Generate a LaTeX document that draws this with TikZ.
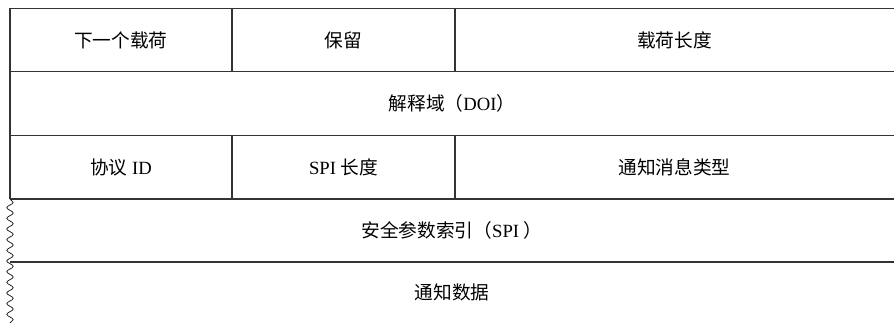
\documentclass[tikz,border=0pt]{standalone}
\usepackage{fontspec}
\setmainfont{Liberation Serif}
\newfontfamily\cjk{Noto Sans CJK SC}
\newcommand{\zh}[1]{{\cjk #1}}
\usetikzlibrary{decorations.pathmorphing}

\begin{document}
\begin{tikzpicture}[x=0.75pt, y=-0.75pt,
  field/.style={inner sep=0pt, font=\fontsize{14}{16}\selectfont},
  rule/.style={line width=1.1pt, draw=black!80},
  wave/.style={draw=black!85, line width=0.6pt, decorate,
    decoration={snake, segment length=8pt, amplitude=2.4pt}}]
  \useasboundingbox (0,0) rectangle (894,323);

  % Grid corners
  \coordinate (TL) at (10,8.5);
  \coordinate (TR) at (894,8.5);
  \coordinate (AL) at (10,71.5);
  \coordinate (AR) at (894,71.5);
  \coordinate (BL) at (10,135.5);
  \coordinate (BR) at (894,135.5);
  \coordinate (CL) at (10,199);
  \coordinate (CR) at (894,199);
  \coordinate (DL) at (10,262);
  \coordinate (DR) at (894,262);
  \coordinate (E) at (10,323);

  % Column dividers
  \coordinate (V1t) at (232,8.5);
  \coordinate (V1b) at (232,71.5);
  \coordinate (V2t) at (455,8.5);
  \coordinate (V2b) at (455,71.5);
  \coordinate (W1t) at (232,135.5);
  \coordinate (W1b) at (232,199);
  \coordinate (W2t) at (455,135.5);
  \coordinate (W2b) at (455,199);

  % Fields
  \node[field] (NP)  at (121,40)    {\zh{下一个载荷}};
  \node[field] (RES) at (343.5,40)  {\zh{保留}};
  \node[field] (PL)  at (674.5,40)  {\zh{载荷长度}};
  \node[field] (DOI) at (452,103.5) {\zh{解释域（}DOI\zh{）}};
  \node[field] (PID) at (121,167)   {\zh{协议} ID};
  \node[field] (SL)  at (343.5,167) {SPI \zh{长度}};
  \node[field] (NT)  at (674.5,167) {\zh{通知消息类型}};
  \node[field] (SPI) at (452,230.5) {\zh{安全参数索引（}SPI \zh{）}};
  \node[field] (ND)  at (452,292.5) {\zh{通知数据}};

  % Horizontal rules
  \draw[rule] (TL) -- (TR);
  \draw[rule] (AL) -- (AR);
  \draw[rule] (BL) -- (BR);
  \draw[rule] (CL) -- (CR);
  \draw[rule] (DL) -- (DR);

  % Left border and dividers
  \draw[rule] (TL) -- (CL);
  \draw[rule] (V1t) -- (V1b);
  \draw[rule] (V2t) -- (V2b);
  \draw[rule] (W1t) -- (W1b);
  \draw[rule] (W2t) -- (W2b);

  % Open end
  \draw[wave] (CL) -- (E);

\end{tikzpicture}
\end{document}
